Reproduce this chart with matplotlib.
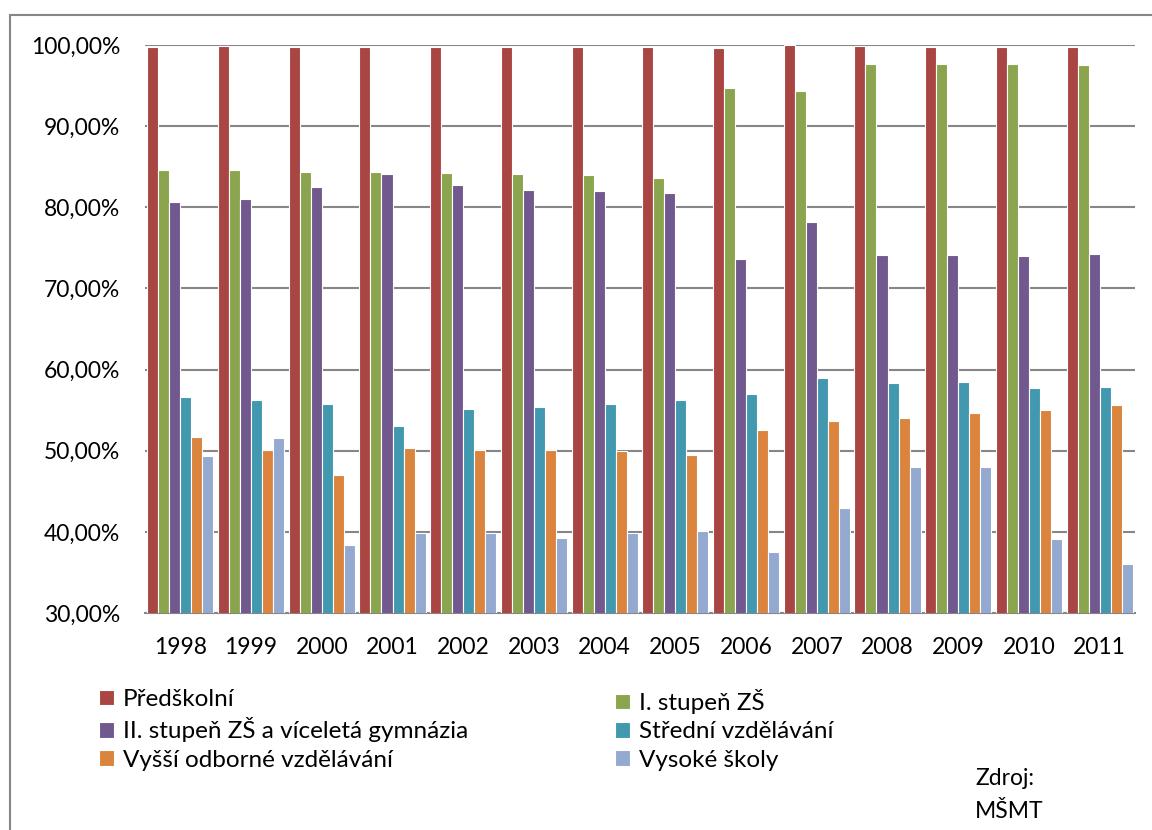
import numpy as np
import matplotlib
matplotlib.use('Agg')
import matplotlib.pyplot as plt
from matplotlib.patches import Rectangle

# Podíl dětí a žáků ve vzdělávání podle stupně (v %)
roky = ['1998', '1999', '2000', '2001', '2002', '2003', '2004',
        '2005', '2006', '2007', '2008', '2009', '2010', '2011']

predskolni = [99.7, 99.9, 99.75, 99.75, 99.7, 99.7, 99.7,
              99.7, 99.6, 99.95, 99.9, 99.8, 99.8, 99.7]
prvni_stupen = [84.6, 84.6, 84.4, 84.4, 84.2, 84.1, 84.0,
                83.6, 94.7, 94.3, 97.7, 97.7, 97.6, 97.5]
druhy_stupen = [80.6, 81.0, 82.5, 84.1, 82.8, 82.1, 82.0,
                81.8, 73.6, 78.2, 74.1, 74.1, 74.0, 74.2]
stredni = [56.6, 56.3, 55.7, 53.1, 55.2, 55.4, 55.7,
           56.3, 57.0, 59.0, 58.3, 58.5, 57.7, 57.9]
vyssi_odborne = [51.7, 50.1, 47.0, 50.3, 50.1, 50.1, 50.0,
                 49.5, 52.5, 53.7, 54.0, 54.6, 55.0, 55.6]
vysoke_skoly = [49.4, 51.6, 38.4, 39.9, 39.9, 39.2, 39.8,
                40.1, 37.5, 42.9, 48.0, 48.0, 39.1, 36.1]

serie = ['Předškolní', 'I. stupeň ZŠ', 'II. stupeň ZŠ a víceletá gymnázia',
         'Střední vzdělávání', 'Vyšší odborné vzdělávání', 'Vysoké školy']
hodnoty = [predskolni, prvni_stupen, druhy_stupen,
           stredni, vyssi_odborne, vysoke_skoly]
barvy = ['#A94643', '#8BA54E', '#71588F', '#4198AF', '#DB843D', '#93A9CF']

plt.rcParams['font.family'] = ['Lato', 'DejaVu Sans']
fs = 16.5
fs_leg = 17.5

fig = plt.figure(figsize=(11.52, 8.3), dpi=100)
ax = fig.add_axes([145 / 1152, 1 - 613 / 830, 990 / 1152, 568 / 830])

x = np.arange(len(roky))
sirka = 0.156
handles = []
for i, (nazev, hod, barva) in enumerate(zip(serie, hodnoty, barvy)):
    posun = (i - 2.5) * sirka
    b = ax.bar(x + posun, hod, width=sirka, bottom=0, color=barva,
               edgecolor='white', linewidth=0.8, label=nazev, zorder=3)
    handles.append(b)

ax.set_xlim(-0.5, len(roky) - 0.5)
ax.set_ylim(30, 100)
ax.set_yticks(np.arange(30, 101, 10))
ax.set_yticklabels([f'{v},00%' for v in range(30, 101, 10)], fontsize=fs)
ax.set_xticks(x)
ax.set_xticklabels(roky, fontsize=fs)
ax.tick_params(axis='both', length=0)
ax.tick_params(axis='y', pad=18)
ax.tick_params(axis='x', pad=17)

ax.grid(axis='y', color='#868686', linewidth=1.5, zorder=0)
for s in ['top', 'right', 'left']:
    ax.spines[s].set_visible(False)
ax.spines['bottom'].set_color('#868686')
ax.spines['bottom'].set_linewidth(1.5)

# legenda ve dvou sloupcích
leg_kw = dict(frameon=False, fontsize=fs_leg, handlelength=0.62, handleheight=0.62,
              handletextpad=0.35, labelspacing=0.3, borderpad=0, borderaxespad=0)
fig.legend([handles[0], handles[2], handles[4]],
           [serie[0], serie[2], serie[4]],
           loc='upper left', bbox_to_anchor=(99 / 1152, 1 - 689 / 830), **leg_kw)
fig.legend([handles[1], handles[3], handles[5]],
           [serie[1], serie[3], serie[5]],
           loc='upper left', bbox_to_anchor=(615 / 1152, 1 - 689 / 830), **leg_kw)

fig.text(975 / 1152, 1 - 778 / 830, 'Zdroj:', fontsize=fs, va='center')
fig.text(975 / 1152, 1 - 811 / 830, 'MŠMT', fontsize=fs, va='center')

# rámeček kolem grafu
fig.patches.append(Rectangle((9.5 / 1152, -0.05), 1.1, 1 - 15.5 / 830 + 0.05,
                             transform=fig.transFigure, fill=False,
                             edgecolor='#868686', linewidth=1.5))

fig.savefig('out.png', dpi=100)
